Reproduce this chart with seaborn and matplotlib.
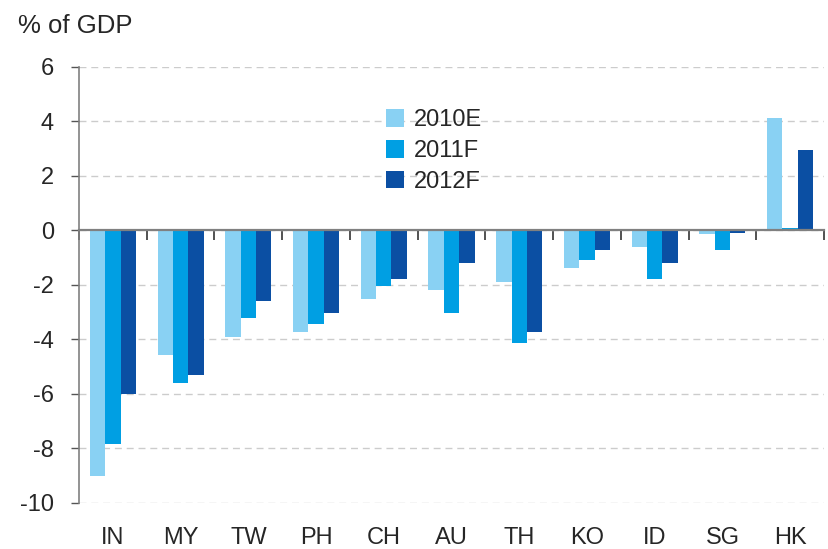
import numpy as np
import pandas as pd
import seaborn as sns
import matplotlib.pyplot as plt

countries = ["IN", "MY", "TW", "PH", "CH", "AU", "TH", "KO", "ID", "SG", "HK"]
years = ["2010E", "2011F", "2012F"]
v2010 = [-9.0, -4.57, -3.9, -3.72, -2.5, -2.2, -1.88, -1.38, -0.6, -0.12, 4.13]
v2011 = [-7.85, -5.6, -3.2, -3.43, -2.03, -3.02, -4.12, -1.1, -1.78, -0.73, 0.1]
v2012 = [-6.0, -5.3, -2.6, -3.02, -1.77, -1.18, -3.72, -0.72, -1.2, -0.1, 2.96]
colors = ["#89D1F3", "#009FE3", "#0B4FA3"]

df = pd.DataFrame({
    "Country": countries * 3,
    "Year": [y for y in years for _ in countries],
    "Value": v2010 + v2011 + v2012,
})

sns.set_style("white")
plt.rcParams["font.family"] = ["Liberation Sans", "DejaVu Sans"]
plt.rcParams["axes.unicode_minus"] = False

fig = plt.figure(figsize=(8.29, 5.49), dpi=100)
ax = fig.add_axes([0.0953, 0.0838, 0.8987, 0.7942])

sns.barplot(data=df, x="Country", y="Value", hue="Year", order=countries,
            hue_order=years, palette=colors, width=0.68, saturation=1,
            linewidth=0, edgecolor="none", ax=ax, zorder=2)

ymin, ymax = -10, 6
ax.set_ylim(ymin, ymax)
ax.set_xlim(-0.5, len(countries) - 0.5)
ax.set_yticks(np.arange(ymin, ymax + 1, 2))
ax.yaxis.grid(True, color="#cccccc", linestyle=(0, (5, 3.5)), linewidth=1, zorder=0)
ax.set_axisbelow(True)
ax.set_xlabel("")
ax.set_ylabel("")

for s in ["top", "right"]:
    ax.spines[s].set_visible(False)
ax.spines["left"].set_color("#808080")
ax.spines["left"].set_linewidth(1.2)

# zero line with ticks between categories
ax.spines["bottom"].set_position(("data", 0))
ax.spines["bottom"].set_color("#808080")
ax.spines["bottom"].set_linewidth(1.6)
ax.spines["bottom"].set_zorder(3)
ax.set_xticks(np.arange(-0.5, len(countries), 1.0))
ax.set_xticklabels([])
ax.tick_params(axis="x", bottom=True, length=7, width=1.2, color="#333333", direction="out")
ax.tick_params(axis="y", length=6, width=1, color="#555555", labelsize=17, pad=12, left=True)

# category labels at the bottom
lab = ax.secondary_xaxis("bottom")
lab.set_xticks(np.arange(len(countries)), labels=countries)
lab.tick_params(axis="x", length=0, labelsize=17, pad=17)
lab.spines["bottom"].set_visible(False)

leg = ax.legend(frameon=False, loc="upper left", bbox_to_anchor=(0.4, 0.925),
                fontsize=17, handlelength=0.75, handleheight=0.75,
                handletextpad=0.4, labelspacing=0.38, borderaxespad=0)

fig.text(0.022, 0.975, "% of GDP", fontsize=18.5, va="top", ha="left")

fig.savefig("out.png", dpi=100)
